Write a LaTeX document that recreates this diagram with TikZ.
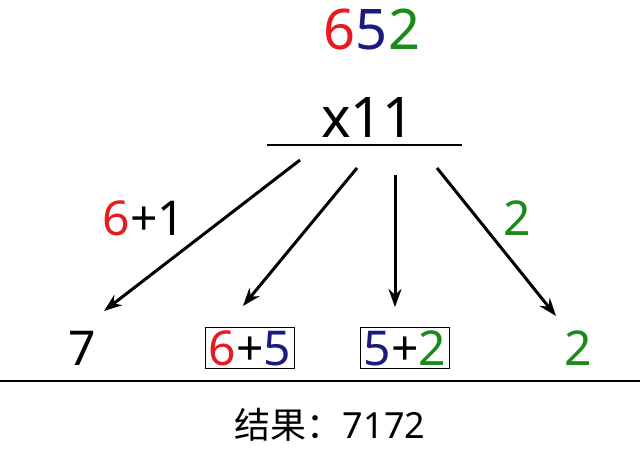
\documentclass[tikz,border=0pt]{standalone}
\usepackage{fontspec}
\usetikzlibrary{arrows.meta}
\setmainfont{Noto Sans}
\newfontfamily\cjk{Noto Sans CJK SC}
\definecolor{cr}{HTML}{E8191F}
\definecolor{cb}{HTML}{1A1A80}
\definecolor{cg}{HTML}{1A8A1A}
\begin{document}
\begin{tikzpicture}[x=1pt,y=-1pt,
  big/.style={font=\fontsize{56}{60}\selectfont, inner sep=0pt},
  num/.style={font=\fontsize{48}{52}\selectfont, inner sep=1pt},
  boxed/.style={num, draw=black, line width=1pt, inner sep=3pt},
  arr/.style={-{Stealth[length=18pt,width=13pt]}, line width=3pt}]
\useasboundingbox (0,0) rectangle (640,458);
\node[big] (top) at (372,30) {\textcolor{cr}{6}\textcolor{cb}{5}\textcolor{cg}{2}};
\node[big] (mul) at (368,118) {x11};
\coordinate (l1) at (267,145); \coordinate (l2) at (462,145);
\draw[line width=2pt] (l1) -- (l2);
\node[num] (r1) at (82,348) {7};
\node[boxed] (r2) at (250,348) {\textcolor{cr}{6}+\textcolor{cb}{5}};
\node[boxed] (r3) at (405,348) {\textcolor{cb}{5}+\textcolor{cg}{2}};
\node[num] (r4) at (578,348) {\textcolor{cg}{2}};
\coordinate (s1) at (300,160); \coordinate (s2) at (357,168);
\coordinate (s3) at (395,175); \coordinate (s4) at (437,168);
\coordinate (e1) at (104,311); \coordinate (e2) at (243,306);
\coordinate (e3) at (395,307); \coordinate (e4) at (556,316);
\draw[arr] (s1) -- (e1);
\draw[arr] (s2) -- (e2);
\draw[arr] (s3) -- (e3);
\draw[arr] (s4) -- (e4);
\node[num] (lab1) at (144,218) {\textcolor{cr}{6}+1};
\node[num] (lab2) at (517,218) {\textcolor{cg}{2}};
\coordinate (b1) at (0,381); \coordinate (b2) at (640,381);
\draw[line width=2pt] (b1) -- (b2);
\node[font=\fontsize{36}{40}\selectfont] (res) at (330,425) {{\cjk 结果：}7172};
\end{tikzpicture}
\end{document}
